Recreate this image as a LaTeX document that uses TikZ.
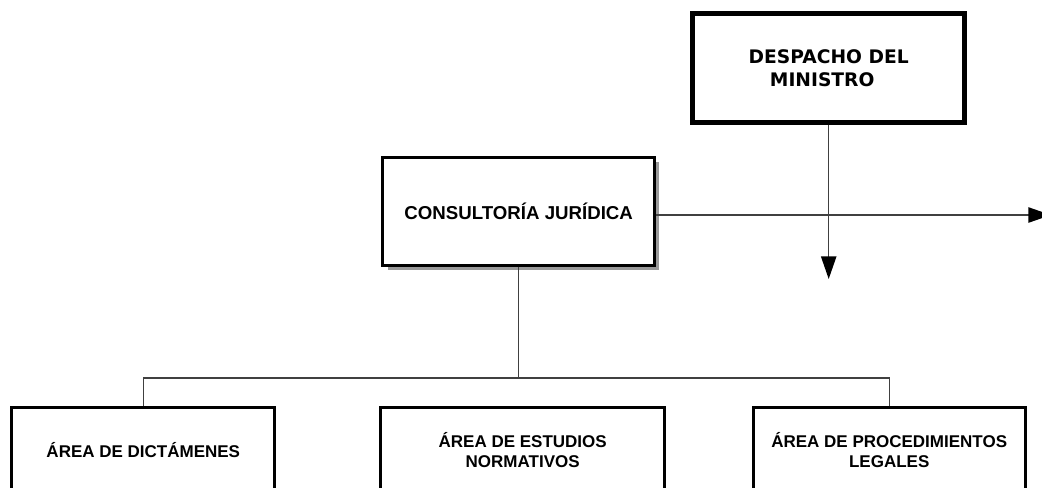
\documentclass[tikz,border=0pt]{standalone}
\usepackage{fontspec}
\setmainfont{Liberation Sans}
\newfontfamily\dejavu{DejaVu Sans}
\usetikzlibrary{arrows.meta, shadows}

\begin{document}
\begin{tikzpicture}[
  x=0.75pt, y=-0.75pt,
  head/.style={draw, line width=3.75pt, fill=white, inner sep=0pt, align=center, minimum width=204.4pt, minimum height=81.5pt, font=\dejavu\fontsize{14}{17.25}\selectfont\bfseries},
  office/.style={draw, line width=2.25pt, fill=white, inner sep=0pt, align=center, minimum width=203.6pt, minimum height=81pt, font=\fontsize{14}{17}\selectfont\bfseries, drop shadow={opacity=1, fill=black!40, shadow xshift=3.5pt, shadow yshift=-3.5pt}},
  area/.style={draw, line width=2.25pt, fill=white, inner sep=0pt, align=center, minimum width=#1, minimum height=63.5pt, font=\fontsize{12.75}{14.5}\selectfont\bfseries},
  link/.style={draw=black!75, line width=1pt},
  arr/.style={link, -{Triangle[length=17pt, width=11.5pt, black]}},
]
  \path[use as bounding box, fill=white] (0,0) rectangle (1042,487);

  \node[head] (desp) at (828.7,67.7) {DESPACHO DEL\\MINISTRO\hspace*{9.75pt}};
  \node[office] (cons) at (518.7,211) {CONSULTORÍA JURÍDICA};

  \node[area=197pt] (dict) at (143.3,450) {ÁREA DE DICTÁMENES};
  \node[area=213.4pt] (estu) at (522.7,450) {ÁREA DE ESTUDIOS\\NORMATIVOS};
  \node[area=204pt] (proc) at (889.2,450) {ÁREA DE PROCEDIMIENTOS\\LEGALES};

  \coordinate (bus) at (518,378);
  \coordinate (outR) at (1051,215);
  \coordinate (down) at (828.7,279);

  \draw[link] (cons.south) -- (cons.south |- bus);
  \draw[link] (dict.north) |- (proc.north |- bus) -- (proc.north);
  \draw[arr] (cons.east |- outR) -- (outR);
  \draw[arr] (desp.south) -- (down);
\end{tikzpicture}
\end{document}
